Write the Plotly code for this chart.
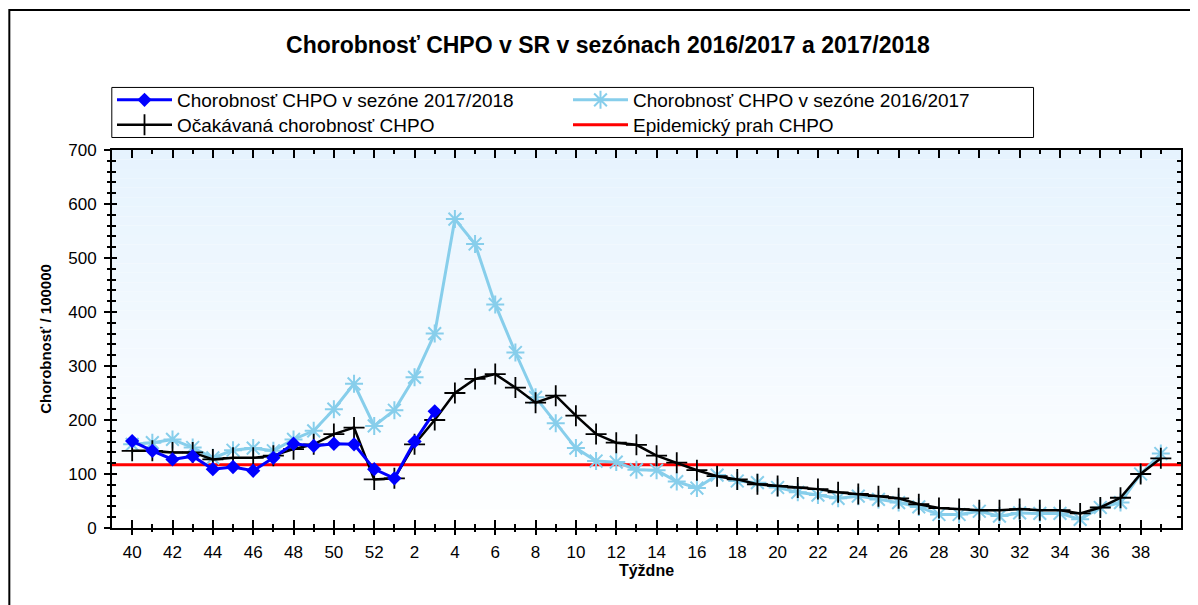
import plotly.graph_objects as go

# ---------------- data ----------------
weeks = [40, 41, 42, 43, 44, 45, 46, 47, 48, 49, 50, 51, 52,
         1, 2, 3, 4, 5, 6, 7, 8, 9, 10, 11, 12, 13, 14, 15, 16, 17, 18, 19,
         20, 21, 22, 23, 24, 25, 26, 27, 28, 29, 30, 31, 32, 33, 34, 35, 36,
         37, 38, 39]

season_2017_2018 = [161, 143, 127, 133, 109, 113, 106, 130, 156, 152, 156, 155,
                    109, 92, 160, 216]

season_2016_2017 = [155, 158, 164, 149, 130, 144, 148, 143, 164, 180, 220, 267,
                    189, 218, 279, 360, 572, 526, 414, 325, 242, 194, 148, 124,
                    122, 108, 107, 86, 74, 98, 87, 84, 75, 66, 61, 55, 59, 53,
                    47, 39, 25, 25, 31, 22, 28, 27, 27, 16, 38, 47, 100, 138]

expected = [143, 143, 140, 140, 127, 130, 130, 134, 146, 155, 174, 186, 90, 92,
            155, 200, 250, 276, 285, 260, 232, 245, 208, 174, 158, 154, 134,
            121, 107, 96, 90, 81, 78, 75, 72, 66, 63, 59, 55, 44, 37, 35, 33,
            33, 35, 33, 33, 27, 38, 56, 100, 129]

epidemic_threshold = 117

name_1718 = "Chorobnosť CHPO v sezóne 2017/2018"
name_1617 = "Chorobnosť CHPO v sezóne 2016/2017"
name_exp = "Očakávaná chorobnosť CHPO"
name_thr = "Epidemický prah CHPO"
title_text = "Chorobnosť CHPO v SR v sezónach 2016/2017 a 2017/2018"
x_title = "Týždne"
y_title = "Chorobnosť / 100000"

# ---------------- layout constants ----------------
# the page body has an 8 px margin, so the figure is placed at (8, 8)
OFF = 8
W, H = 1198 - OFF, 605 - OFF
PL, PT, PR, PB = 111.7, 150, 1181, 527.7      # plot area in page pixels
ML, MT = PL - OFF, PT - OFF
MR, MB = W - (PR - OFF), H - (PB - OFF)
X_RANGE = [-1, 52]
Y_RANGE = [0, 700]
FONT = "Liberation Sans, Arial, sans-serif"

idx = list(range(len(weeks)))
major_vals = [i for i, w in zip(idx, weeks) if w % 2 == 0]
major_text = [str(w) for w in weeks if w % 2 == 0]

fig = go.Figure()

fig.add_trace(go.Scatter(
    x=idx[:len(season_2016_2017)], y=season_2016_2017, name=name_1617,
    mode="lines+markers", legend="legend", legendrank=2,
    line=dict(color="#87CEEB", width=3),
    marker=dict(symbol="asterisk-open", size=15,
                line=dict(color="#87CEEB", width=2)),
))
fig.add_trace(go.Scatter(
    x=idx[:len(expected)], y=expected, name=name_exp,
    mode="lines+markers", legend="legend2", legendrank=1,
    line=dict(color="black", width=2.5),
    marker=dict(symbol="cross-thin-open", size=15,
                line=dict(color="black", width=1.8)),
))
fig.add_trace(go.Scatter(
    x=idx[:len(season_2017_2018)], y=season_2017_2018, name=name_1718,
    mode="lines+markers", legend="legend", legendrank=1,
    line=dict(color="#0000FF", width=3),
    marker=dict(symbol="diamond", size=11, color="#0000FF"),
))
# legend entry for the threshold line (line itself drawn as a shape)
fig.add_trace(go.Scatter(
    x=[None], y=[None], name=name_thr, mode="lines",
    legend="legend2", legendrank=2,
    line=dict(color="#FF0000", width=3), xaxis="x2", yaxis="y2",
))

# gradient background
N = 40
shapes = []
top = (230, 243, 254)
for i in range(N):
    t = (i + 0.5) / N
    c = tuple(int(round(255 + (tc - 255) * t)) for tc in top)
    shapes.append(dict(type="rect", xref="paper", yref="paper",
                       x0=0, x1=1, y0=i / N, y1=(i + 1) / N,
                       fillcolor=f"rgb{c}", line=dict(width=0), layer="below"))
# threshold line
shapes.append(dict(type="line", xref="paper", yref="y", x0=0, x1=1,
                   y0=epidemic_threshold, y1=epidemic_threshold,
                   line=dict(color="#FF0000", width=3), layer="between"))
# page pixel coordinates converted to paper units
pw, ph = W - ML - MR, H - MT - MB
def px2x(p):
    return (p - OFF - ML) / pw
def py2y(p):
    return (H - MB - (p - OFF)) / ph
# outer frame
shapes.append(dict(type="rect", xref="paper", yref="paper",
                   x0=px2x(9), x1=px2x(1210), y0=py2y(640), y1=py2y(10),
                   line=dict(color="black", width=2), fillcolor="rgba(0,0,0,0)",
                   layer="above"))
# legend box
shapes.append(dict(type="rect", xref="paper", yref="paper",
                   x0=px2x(111.5), x1=px2x(1033.5), y0=py2y(137.5),
                   y1=py2y(87.5), line=dict(color="black", width=1),
                   fillcolor="white", layer="above"))

axis_common = dict(showgrid=False, zeroline=False, linecolor="black",
                   tickcolor="black", tickwidth=1.5)

legend_common = dict(orientation="h", xref="container", yref="container",
                     x=(112 - OFF) / W, xanchor="left", yanchor="middle",
                     entrywidth=386, entrywidthmode="pixels",
                     borderwidth=0, bgcolor="rgba(0,0,0,0)",
                     font=dict(size=19, family=FONT), itemwidth=55,
                     tracegroupgap=0, traceorder="normal")

fig.update_layout(
    width=W, height=H,
    margin=dict(l=ML, r=MR, t=MT, b=MB, pad=0, autoexpand=False),
    paper_bgcolor="white", plot_bgcolor="white",
    font=dict(family=FONT, size=17, color="black"),
    title=dict(text="<b>" + title_text + "</b>", x=(608 - OFF) / W,
               xref="container", xanchor="center", y=1 - (45 - OFF) / H,
               yref="container", yanchor="middle",
               font=dict(size=23, family=FONT)),
    showlegend=True,
    legend=dict(y=1 - (100 - OFF) / H, **legend_common),
    legend2=dict(y=1 - (125 - OFF) / H, **legend_common),
    shapes=shapes,
    xaxis=dict(range=X_RANGE, tickmode="array", tickvals=major_vals,
               ticks="inside", ticklen=8, mirror="ticks", showline=True,
               linewidth=2, showticklabels=False,
               minor=dict(tickmode="array", tickvals=idx, ticks="inside",
                          ticklen=4, tickcolor="black", tickwidth=1.5),
               **axis_common),
    yaxis=dict(range=Y_RANGE, tickmode="linear", tick0=0, dtick=100,
               ticks="inside", ticklen=5, mirror="ticks", showline=True,
               linewidth=2, showticklabels=False,
               minor=dict(tick0=0, dtick=20, ticks="inside", ticklen=4,
                          tickcolor="black", tickwidth=1.5),
               **axis_common),
    xaxis2=dict(range=X_RANGE, overlaying="x", matches="x", anchor="y",
                side="bottom", tickmode="array", tickvals=major_vals,
                ticktext=major_text, ticks="outside", ticklen=6,
                showline=False, tickfont=dict(size=17), ticklabelstandoff=3,
                minor=dict(tickmode="array", tickvals=idx, ticks="outside",
                           ticklen=3, tickcolor="black", tickwidth=1.5),
                title=dict(text="<b>" + x_title + "</b>",
                           font=dict(size=16), standoff=2),
                **axis_common),
    yaxis2=dict(range=Y_RANGE, overlaying="y", matches="y", anchor="x",
                side="left", tickmode="linear", tick0=0, dtick=100,
                ticks="outside", ticklen=7, showline=False,
                tickfont=dict(size=17), ticklabelstandoff=4,
                minor=dict(tick0=0, dtick=20, ticks="outside", ticklen=4,
                           tickcolor="black", tickwidth=1.5),
                title=dict(text="<b>" + y_title + "</b>",
                           font=dict(size=15), standoff=12),
                **axis_common),
)

fig.write_html("out.html")
